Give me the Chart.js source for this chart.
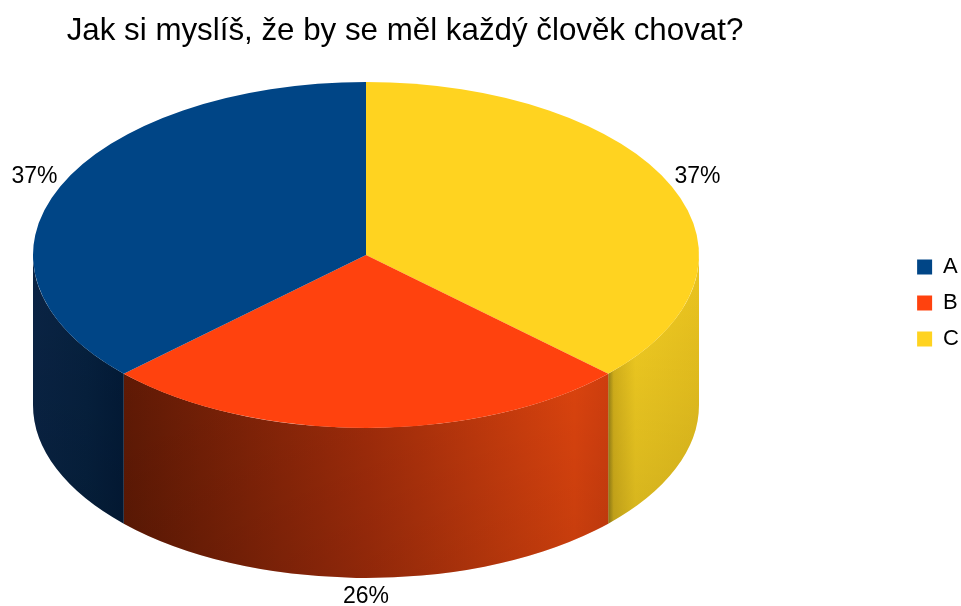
<!DOCTYPE html>
<html>
<head>
<meta charset="utf-8">
<script src="https://cdn.jsdelivr.net/npm/chart.js@4/dist/chart.umd.min.js"></script>
<style>
  html, body { margin: 0; padding: 0; background: #ffffff; }
  canvas { display: block; }
</style>
</head>
<body>
<canvas id="chart" width="961" height="606"></canvas>
<script>
// ---- data ----
const TITLE = 'Jak si myslíš, že by se měl každý člověk chovat?';
const categories = ['A', 'B', 'C'];
const answers = [10, 7, 10];

// ---- styling ----
const FONT = '"Liberation Sans", Arial, Helvetica, sans-serif';
const FACE_COLORS = { A: '#004586', B: '#ff420e', C: '#ffd320' };
const WALL_STOPS = {
  A: [[0, '#0a2445'], [0.6, '#06213f'], [1, '#031b38']],
  B: [[0, '#641b05'], [0.5, '#a82e0b'], [0.93, '#e6470f'], [1, '#d9410f']],
  C: [[0, '#9a8418'], [0.06, '#d9b51c'], [0.3, '#f4ce22'], [1, '#ebc41f']]
};
// cylinder geometry (top ellipse centre, radii and height of the side wall)
const CX = 366, CY = 255, RX = 333, RY = 173, DEPTH = 150;

// A starts at 12 o'clock and runs anticlockwise,
// so the clockwise Chart.js pie gets the categories in reverse.
const pieLabels = categories.slice().reverse();
const pieValues = answers.slice().reverse();
const pieColors = pieLabels.map(l => FACE_COLORS[l]);

function frontRanges(s, e) {
  // canvas angles grow clockwise; the visible front half of the rim is 0..PI
  const out = [];
  for (const k of [-2, 0, 2]) {
    const lo = Math.max(s, k * Math.PI), hi = Math.min(e, k * Math.PI + Math.PI);
    if (hi > lo) out.push([lo, hi]);
  }
  return out;
}

const cylinderPlugin = {
  id: 'cylinder',
  beforeDatasetsDraw(chart) {
    const ctx = chart.ctx;
    const meta = chart.getDatasetMeta(0);
    // side walls
    meta.data.forEach((arc, i) => {
      const label = pieLabels[i];
      frontRanges(arc.startAngle, arc.endAngle).forEach(([lo, hi]) => {
        const x1 = CX + RX * Math.cos(lo), x2 = CX + RX * Math.cos(hi);
        const xl = Math.min(x1, x2), xr = Math.max(x1, x2);
        const path = new Path2D();
        path.ellipse(CX, CY, RX, RY, 0, lo, hi, false);
        path.ellipse(CX, CY + DEPTH, RX, RY, 0, hi, lo, true);
        path.closePath();
        const g = ctx.createLinearGradient(xl, 0, xr, 0);
        WALL_STOPS[label].forEach(([p, c]) => g.addColorStop(p, c));
        ctx.fillStyle = g;
        ctx.fill(path);
        const v = ctx.createLinearGradient(0, CY, 0, CY + RY + DEPTH);
        v.addColorStop(0, 'rgba(0,0,0,0)');
        v.addColorStop(1, 'rgba(0,0,0,0.15)');
        ctx.fillStyle = v;
        ctx.fill(path);
      });
    });
    // squash the round pie into the top ellipse of the cylinder
    const a = meta.data[0];
    const R = a.outerRadius;
    ctx.save();
    ctx.translate(CX, CY);
    ctx.scale(RX / R, RY / R);
    ctx.translate(-a.x, -a.y);
  },
  afterDatasetsDraw(chart) {
    const ctx = chart.ctx;
    ctx.restore();
    const meta = chart.getDatasetMeta(0);
    const total = pieValues.reduce((s, v) => s + v, 0);
    const size = 23, capH = size * 0.72;
    ctx.save();
    ctx.font = size + 'px ' + FONT;
    ctx.fillStyle = '#000000';
    ctx.textAlign = 'center';
    ctx.textBaseline = 'alphabetic';
    meta.data.forEach((arc, i) => {
      const mid = (arc.startAngle + arc.endAngle) / 2;
      const c = Math.cos(mid), s = Math.sin(mid);
      const txt = Math.round(pieValues[i] / total * 100) + '%';
      const w = ctx.measureText(txt).width;
      const ax = CX + (RX + 3) * c;
      const ay = CY + (RY + 8) * s + (s > 0 ? DEPTH : 0);
      const lx = ax + (Math.abs(c) < 0.2 ? 0 : Math.sign(c) * w / 2);
      const ly = ay + (Math.abs(s) < 0.2 ? 0 : Math.sign(s) * capH / 2);
      ctx.fillText(txt, lx, ly + capH / 2);
    });
    ctx.restore();
  },
  afterDraw(chart) {
    const ctx = chart.ctx;
    ctx.save();
    ctx.font = '31.3px ' + FONT;
    ctx.fillStyle = '#000000';
    ctx.textAlign = 'center';
    ctx.textBaseline = 'alphabetic';
    ctx.fillText(TITLE, 405, 40);
    ctx.restore();
  }
};

new Chart(document.getElementById('chart'), {
  type: 'pie',
  data: {
    labels: pieLabels,
    datasets: [{
      data: pieValues,
      backgroundColor: pieColors,
      borderWidth: 0,
      clip: false
    }]
  },
  options: {
    responsive: false,
    animation: false,
    events: [],
    devicePixelRatio: 1,
    layout: { padding: { right: -8 } },
    plugins: {
      title: { display: false },
      tooltip: { enabled: false },
      legend: {
        position: 'right',
        reverse: true,
        labels: {
          boxWidth: 15,
          boxHeight: 15,
          padding: 14,
          color: '#000000',
          font: { family: FONT, size: 22 }
        }
      }
    }
  },
  plugins: [cylinderPlugin]
});
</script>
</body>
</html>
